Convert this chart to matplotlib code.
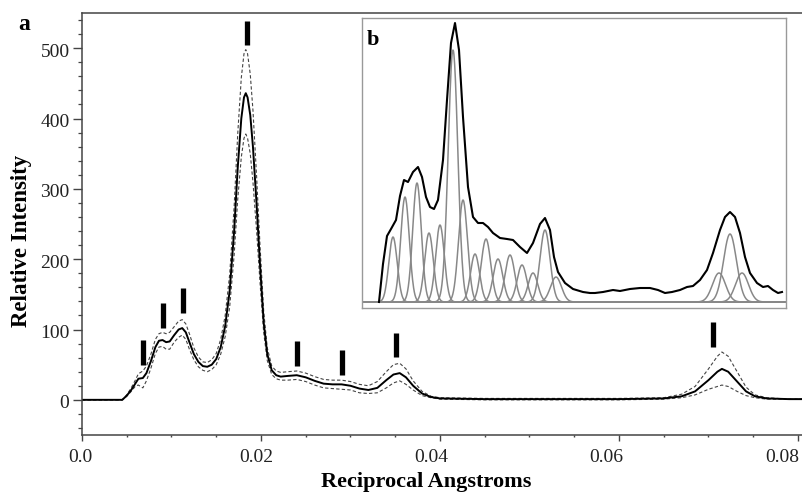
import numpy as np
import matplotlib.pyplot as plt
from matplotlib.ticker import MultipleLocator
from matplotlib.transforms import blended_transform_factory, ScaledTranslation

plt.rcParams['font.family'] = ['Liberation Serif', 'DejaVu Serif']

# main spectrum (reciprocal angstroms vs relative intensity)
x = [0.0, 0.0045, 0.0050, 0.0055, 0.0060, 0.0063, 0.0068, 0.0072, 0.0077, 0.0082,
     0.0086, 0.0090, 0.0094, 0.0098, 0.0103, 0.0108, 0.0112, 0.0116, 0.0120, 0.0125,
     0.0130, 0.0135, 0.0140, 0.0145, 0.0150, 0.0155, 0.0160, 0.0165, 0.0170, 0.0174,
     0.0178, 0.0181, 0.0183, 0.0185, 0.0188, 0.0191, 0.0195, 0.0199, 0.0203, 0.0207,
     0.0212, 0.0217, 0.0222, 0.0230, 0.0240, 0.0250, 0.0260, 0.0270, 0.0280, 0.0290,
     0.0300, 0.0310, 0.0320, 0.0330, 0.0340, 0.0348, 0.0355, 0.0362, 0.0370, 0.0380,
     0.0390, 0.0400, 0.0450, 0.0500, 0.0550, 0.0600, 0.0650, 0.0670, 0.0685, 0.0700,
     0.0710, 0.0715, 0.0722, 0.0732, 0.0742, 0.0752, 0.0765, 0.0790, 0.0805]
mid = [0, 0, 6, 14, 24, 30, 31, 38, 55, 75,
       84, 85, 82, 83, 92, 100, 102, 96, 82, 65,
       54, 48, 47, 50, 58, 75, 105, 155, 240, 330,
       400, 430, 436, 430, 405, 360, 280, 190, 110, 65,
       42, 35, 33, 34, 35, 32, 27, 23, 22, 22,
       20, 16, 14, 17, 28, 36, 38, 32, 20, 9,
       4, 2, 1, 1, 1, 1, 2, 5, 12, 28,
       40, 44, 40, 26, 12, 5, 2, 1, 1]
upper = [0, 0, 7, 17, 29, 37, 41, 48, 65, 86,
         94, 96, 94, 96, 104, 112, 114, 108, 94, 74,
         61, 54, 53, 57, 66, 86, 120, 178, 275, 378,
         458, 492, 498, 492, 463, 412, 320, 217, 126, 74,
         48, 41, 39, 40, 41, 38, 33, 29, 28, 28,
         26, 22, 20, 26, 40, 50, 52, 44, 27, 12,
         5, 3, 2, 2, 2, 2, 3, 8, 19, 44,
         62, 68, 62, 40, 18, 7, 3, 1, 1]
lower = [0, 0, 5, 12, 20, 21, 17, 27, 45, 66,
         75, 76, 72, 72, 82, 89, 92, 86, 72, 57,
         47, 42, 40, 43, 50, 65, 90, 132, 206, 285,
         345, 372, 378, 372, 350, 310, 242, 165, 96, 56,
         36, 30, 28, 28, 29, 26, 21, 17, 16, 15,
         14, 10, 9, 10, 17, 24, 27, 22, 14, 6,
         3, 1, 0, 0, 0, 0, 1, 3, 7, 15,
         19, 21, 19, 12, 6, 3, 1, 1, 1]

# peak marker bars
bar_x = [0.0068, 0.0090, 0.0113, 0.0184, 0.0240, 0.0290, 0.0351, 0.0705]
bar_lo = [50, 102, 124, 504, 48, 36, 61, 75]
bar_hi = [85, 138, 159, 538, 84, 71, 95, 111]

xtick_vals = [0, 0.02, 0.04, 0.06, 0.08]
xtick_labels = ['0.0', '0.02', '0.04', '0.06', '0.08']
ytick_vals = [0, 100, 200, 300, 400, 500]

# inset (b): fitted gaussian components, in inset units
comp_c = [31, 43, 55, 67, 78, 91, 101, 113, 124, 136, 148, 160, 171, 183, 194, 357, 368, 380]
comp_h = [65, 105, 119, 69, 77, 252, 102, 48, 63, 43, 47, 37, 29, 72, 25, 29, 68, 29]
comp_s = [4.2, 4.3, 4.3, 4.3, 4.3, 4.8, 4.5, 4.5, 4.8, 4.8, 4.8, 4.8, 4.8, 5.0, 5.5, 6.5, 6.5, 6.5]

# inset (b): measured total curve
bx = [17, 21, 25, 29, 34, 38, 42, 46, 51, 56, 60, 64, 68, 72, 76, 81, 85, 89, 93, 97,
      101, 106, 111, 116, 121, 126, 131, 138, 145, 151, 158, 165, 171, 178, 183, 188, 192, 196, 203, 211,
      221, 228, 233, 241, 251, 258, 268, 278, 288, 296, 303, 310, 318, 325, 331, 338, 345, 351, 358, 363,
      368, 373, 378, 383, 388, 395, 401, 406, 411, 416, 420]
by = [0, 38, 66, 73, 82, 106, 122, 120, 130, 135, 125, 105, 95, 93, 102, 142, 202, 259, 279, 252,
      185, 115, 85, 79, 79, 75, 69, 64, 63, 62, 55, 49, 59, 78, 84, 72, 45, 30, 19, 13,
      10, 9, 9, 10, 12, 11, 13, 14, 14, 12, 9, 10, 12, 15, 16, 22, 32, 49, 72, 85,
      90, 85, 69, 45, 29, 19, 15, 16, 12, 9, 10]

fig = plt.figure(figsize=(8.02, 4.92), dpi=100)
ax = fig.add_axes([82/802, 57/492, 720/802, 422/492])

ax.plot(x, upper, color='#444444', lw=0.8, ls=(0, (3, 2)))
ax.plot(x, lower, color='#444444', lw=0.8, ls=(0, (3, 2)))
ax.plot(x, mid, color='black', lw=1.4)
ax.vlines(bar_x, bar_lo, bar_hi, color='black', lw=3.8)

ax.set_xlim(0, 0.08045)
ax.set_ylim(-50, 550)
ax.set_xticks(xtick_vals)
ax.xaxis.set_minor_locator(MultipleLocator(0.005))
ax.set_yticks(ytick_vals)
ax.yaxis.set_minor_locator(MultipleLocator(20))
ax.set_xticklabels([])
ax.set_yticklabels([])
ax.tick_params(axis='x', which='major', direction='out', length=4, width=1, colors='#444444')
ax.tick_params(axis='x', which='minor', direction='out', length=1.5, width=1, colors='#444444')
ax.tick_params(axis='y', which='major', direction='out', length=6.5, width=1, colors='#444444')
ax.tick_params(axis='y', which='minor', direction='out', length=3, width=0.9, colors='#444444')
for s in ['left', 'bottom', 'top']:
    ax.spines[s].set_color('#444444')
    ax.spines[s].set_linewidth(1.1)
ax.spines['right'].set_visible(False)

# tick labels (placed slightly off the ticks, as in the original)
bt = blended_transform_factory(ax.transData, ax.transAxes)
for i, (v, lab) in enumerate(zip(xtick_vals, xtick_labels)):
    dx = -(1.5 + 3.6 * i) / 100
    ax.text(v, 0, lab, transform=bt + ScaledTranslation(dx, -0.22, fig.dpi_scale_trans),
            ha='center', va='center', fontsize=14, color='#222222')
bty = blended_transform_factory(ax.transAxes, ax.transData)
for v in ytick_vals:
    ax.text(0, v, str(v), transform=bty + ScaledTranslation(-0.125, -0.04, fig.dpi_scale_trans),
            ha='right', va='center', fontsize=14, color='#222222')

fig.text(426/802, 1 - 487/492, 'Reciprocal Angstroms', fontsize=16, fontweight='bold',
         ha='center', va='baseline')
fig.text(22/802, 1 - 241/492, 'Relative Intensity', fontsize=16.5, fontweight='bold',
         ha='center', va='center', rotation=90)
fig.text(18/802, 1 - 30/492, 'a', fontsize=17, fontweight='bold')

# inset
axi = fig.add_axes([362/802, 184/492, 424/802, 290/492])
xs = np.linspace(0, 424, 1200)
for c, h, s in zip(comp_c, comp_h, comp_s):
    axi.plot(xs, h * np.exp(-(xs - c) ** 2 / (2 * s ** 2)), color='#888888', lw=1.1)
axi.plot([3, 420], [0, 0], color='#888888', lw=1.1)
axi.plot(bx, by, color='black', lw=1.5)
axi.set_xlim(0, 424)
axi.set_ylim(-6, 284)
axi.set_xticks([])
axi.set_yticks([])
for s in axi.spines.values():
    s.set_color('#999999')
    s.set_linewidth(1.0)
axi.text(5, 272, 'b', fontsize=16, fontweight='bold', va='top', ha='left')

fig.savefig('out.png', dpi=100)
